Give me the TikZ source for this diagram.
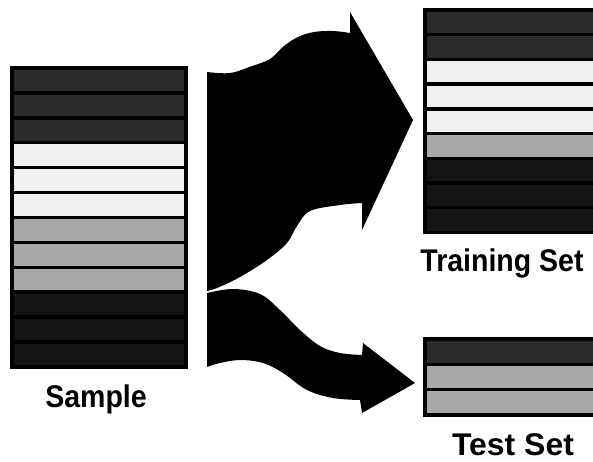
\documentclass[tikz,border=0pt]{standalone}
\usepackage{graphicx}
\usepackage{fontspec}
\setmainfont{Liberation Sans}
\definecolor{bardark}{gray}{0.17}
\definecolor{barlight}{gray}{0.94}
\definecolor{barmid}{gray}{0.66}
\definecolor{barblack}{gray}{0.08}
\begin{document}
\begin{tikzpicture}[x=1pt,y=-1pt,
      bar/.style={draw=black,line width=3.4pt,anchor=north west,inner sep=0pt,outer sep=0pt},
      lbl/.style={anchor=base,inner sep=0pt,font=\bfseries\fontsize{28.5}{34}\selectfont}]
    \useasboundingbox (0,0) rectangle (593,461);
    \clip (0,0) rectangle (593,461);
    % sample
    \foreach \c [count=\i] in {bardark,bardark,bardark,barlight,barlight,barlight,
                               barmid,barmid,barmid,barblack,barblack,barblack}
      \node[bar,fill=\c,minimum width=174pt,minimum height=24.9pt] (s\i) at (12,{68+24.9*(\i-1)}) {};
    % training set
    \foreach \c [count=\i] in {bardark,bardark,barlight,barlight,barlight,
                               barmid,barblack,barblack,barblack}
      \node[bar,fill=\c,minimum width=190pt,minimum height=24.7pt] (t\i) at (425,{10+24.7*(\i-1)}) {};
    % test set
    \foreach \c [count=\i] in {bardark,barmid,barmid}
      \node[bar,fill=\c,minimum width=190pt,minimum height=25.3pt] (e\i) at (425,{339+25.3*(\i-1)}) {};
    % arrows
    \coordinate (split) at (207,291);
    \fill[black] (207,72) -- plot[smooth,tension=0.6] coordinates {(207,72) (230,73) (252,66) (270,59) (284,46) (298,37) (314,32) (333,31) (350,33)}
      -- (350,12) -- (413,120) -- (362,230)
      -- plot[smooth,tension=0.6] coordinates {(362,203) (340,205) (310,211) (297,226) (287,243) (267,260) (240,277) (217,288) (split)}
      -- cycle;
    \fill[black] (207,293) -- plot[smooth,tension=0.6] coordinates {(207,293) (233,289) (260,294) (280,310) (300,330) (320,346) (340,353) (362,355)}
      -- (363,343) -- (415,383) -- (362,413)
      -- plot[smooth,tension=0.6] coordinates {(360,400) (333,398) (307,390) (283,373) (263,363) (240,360) (220,363) (207,367)}
      -- cycle;
    % labels
    \node[lbl] (sample) at (96,407) {\scalebox{1}[1.1]{Sample}};
    \node[lbl] (train) at (502,271) {\scalebox{1}[1.1]{Training Set}};
    \node[lbl] (test) at (513,455) {\scalebox{1.12}[1.1]{Test Set}};
  \end{tikzpicture}
\end{document}
